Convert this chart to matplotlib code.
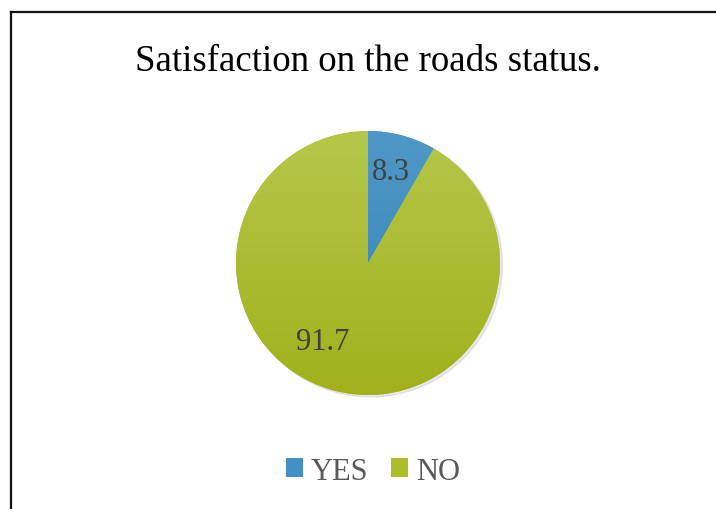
import numpy as np
import matplotlib
matplotlib.use("Agg")
import matplotlib.pyplot as plt
from matplotlib.colors import LinearSegmentedColormap
from matplotlib.lines import Line2D

categories = ["YES", "NO"]
values = [8.3, 91.7]
title = "Satisfaction on the roads status."

plt.rcParams['font.family'] = ['Liberation Serif', 'DejaVu Serif']

W, H = 716, 510
fig = plt.figure(figsize=(W / 100, H / 100), dpi=100)
fig.patch.set_facecolor("white")

# outer chart border (left and top edges visible)
fig.add_artist(Line2D([11 / W, 11 / W], [0, 1 - 13 / H], color="#111111", lw=1.6,
                      transform=fig.transFigure))
fig.add_artist(Line2D([11 / W, 1], [1 - 13 / H, 1 - 13 / H], color="#111111", lw=1.6,
                      transform=fig.transFigure))

cx, cy, r = 368, 264, 132
ax = fig.add_axes([(cx - r) / W, (H - cy - r) / H, 2 * r / W, 2 * r / H])
ax.set_aspect("equal")
ax.axis("off")

# subtle shadow
shadow = plt.Circle((0.018, -0.015), 1.0, color="#cccccc", alpha=0.45, zorder=0,
                    clip_on=False)
ax.add_patch(shadow)

base_colors = ["#4590c2", "#abbc2c"]
grads = [("#4f98c8", "#3581b3"), ("#b6c64a", "#a0b11c")]
wedges, _ = ax.pie(values, colors=base_colors, startangle=90, counterclock=False,
                   radius=1.0, wedgeprops=dict(linewidth=0))

grad = np.linspace(1, 0, 256).reshape(-1, 1)
for w, (top, bot) in zip(wedges, grads):
    cmap = LinearSegmentedColormap.from_list("g", [bot, top])
    im = ax.imshow(grad, cmap=cmap, extent=(-1, 1, -1, 1), aspect="auto",
                   origin="upper", zorder=w.get_zorder() + 0.1)
    im.set_clip_path(w)
ax.set_xlim(-1.0, 1.0)
ax.set_ylim(-1.0, 1.0)

# data labels
label_pos = [(23 / r, 91 / r), (-45 / r, -79 / r)]
for v, (lx, ly) in zip(values, label_pos):
    ax.text(lx, ly, f"{v:g}", ha="center", va="center", fontsize=22,
            color="#404040", zorder=5)

fig.text(368 / W, 1 - 62 / H, title, ha="center", va="center", fontsize=26.6,
         color="black")

leg = fig.legend(wedges, categories, loc="center", bbox_to_anchor=(373 / W, 1 - 472 / H),
                 ncol=2, frameon=False, fontsize=22, handlelength=0.55,
                 handleheight=0.55, handletextpad=0.26, columnspacing=0.75,
                 labelcolor="#595959")

fig.savefig("out.png", dpi=100, facecolor="white")
